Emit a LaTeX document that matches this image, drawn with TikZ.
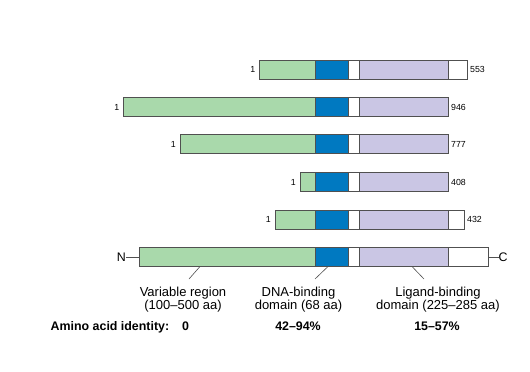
\documentclass[tikz,border=0pt]{standalone}
\usepackage{fontspec}
\setmainfont{Liberation Sans}
\definecolor{vargreen}{HTML}{A9D9AB}
\definecolor{dnablue}{HTML}{0079C1}
\definecolor{ligpurple}{HTML}{CAC6E4}
\definecolor{edgegray}{HTML}{505050}
\tikzset{
  segbox/.style={draw=edgegray, line width=0.8pt},
  numlabel/.style={font=\fontsize{8.8}{10}\selectfont, inner sep=0pt},
  caption/.style={font=\fontsize{13}{13.2}\selectfont, align=center, inner sep=0pt},
  boldcap/.style={font=\fontsize{12.4}{14}\selectfont\bfseries, inner sep=0pt, anchor=base},
  leader/.style={draw=edgegray, line width=0.6pt}
}
\begin{document}
\begin{tikzpicture}[x=1pt, y=-1pt]
\useasboundingbox (0,0) rectangle (530,372);
% protein rows
\foreach \n/\y/\xl/\xr/\lab in {1/60/259.5/467/553, 2/97.5/123.5/448/946, 3/134.5/180/448/777, 4/172.5/300/448/408, 5/210/275/464/432}{
  \fill[vargreen] (\xl,\y) rectangle (315,\y+19);
  \fill[dnablue] (315,\y) rectangle (348,\y+19);
  \fill[white] (348,\y) rectangle (359,\y+19);
  \fill[ligpurple] (359,\y) rectangle (448,\y+19);
  \fill[white] (448,\y) rectangle (\xr,\y+19);
  \draw[segbox] (\xl,\y) rectangle (\xr,\y+19);
  \draw[segbox] (315,\y) -- (315,\y+19) (348,\y) -- (348,\y+19) (359,\y) -- (359,\y+19) (448,\y) -- (448,\y+19);
  \node[numlabel, anchor=east] (start\n) at (\xl-4,\y+9.5) {1};
  \node[numlabel, anchor=west] (end\n) at (\xr+3,\y+9.5) {\lab};
}
% consensus row
\fill[vargreen] (139,247.5) rectangle (315,266.5);
\fill[dnablue] (315,247.5) rectangle (348,266.5);
\fill[white] (348,247.5) rectangle (359,266.5);
\fill[ligpurple] (359,247.5) rectangle (448,266.5);
\fill[white] (448,247.5) rectangle (488,266.5);
\draw[segbox] (139,247.5) rectangle (488,266.5);
\draw[segbox] (315,247.5) -- (315,266.5) (348,247.5) -- (348,266.5) (359,247.5) -- (359,266.5) (448,247.5) -- (448,266.5);
\coordinate (nend) at (139,257);
\coordinate (cend) at (488,257);
\node[font=\fontsize{12.4}{14}\selectfont, anchor=east, inner sep=0pt] (N) at (126,257) {N};
\node[font=\fontsize{12.4}{14}\selectfont, anchor=west, inner sep=0pt] (C) at (498.5,257) {C};
\draw[leader] (N.east) -- (nend);
\draw[leader] (cend) -- (C.west);
% captions
\node[caption, anchor=north] (varlab) at (183,287) {Variable region\\(100–500 aa)};
\node[caption, anchor=north] (dnalab) at (298.5,287) {DNA-binding\\domain (68 aa)};
\node[caption, anchor=north] (liglab) at (438,287) {Ligand-binding\\domain (225–285 aa)};
\coordinate (varpt) at (200,266.5);
\coordinate (dnapt) at (328,266.5);
\coordinate (ligpt) at (412,266.5);
\coordinate (vartop) at (189,279);
\coordinate (dnatop) at (315,279);
\coordinate (ligtop) at (424,279);
\draw[leader] (varpt) -- (vartop);
\draw[leader] (dnapt) -- (dnatop);
\draw[leader] (ligpt) -- (ligtop);
% identity row
\node[boldcap, anchor=base west] (idlab) at (50.5,330.5) {Amino acid identity:};
\node[boldcap] (id0) at (185.5,330.5) {0};
\node[boldcap] (id1) at (298,330.5) {42–94\%};
\node[boldcap] (id2) at (437,330.5) {15–57\%};
\end{tikzpicture}
\end{document}
